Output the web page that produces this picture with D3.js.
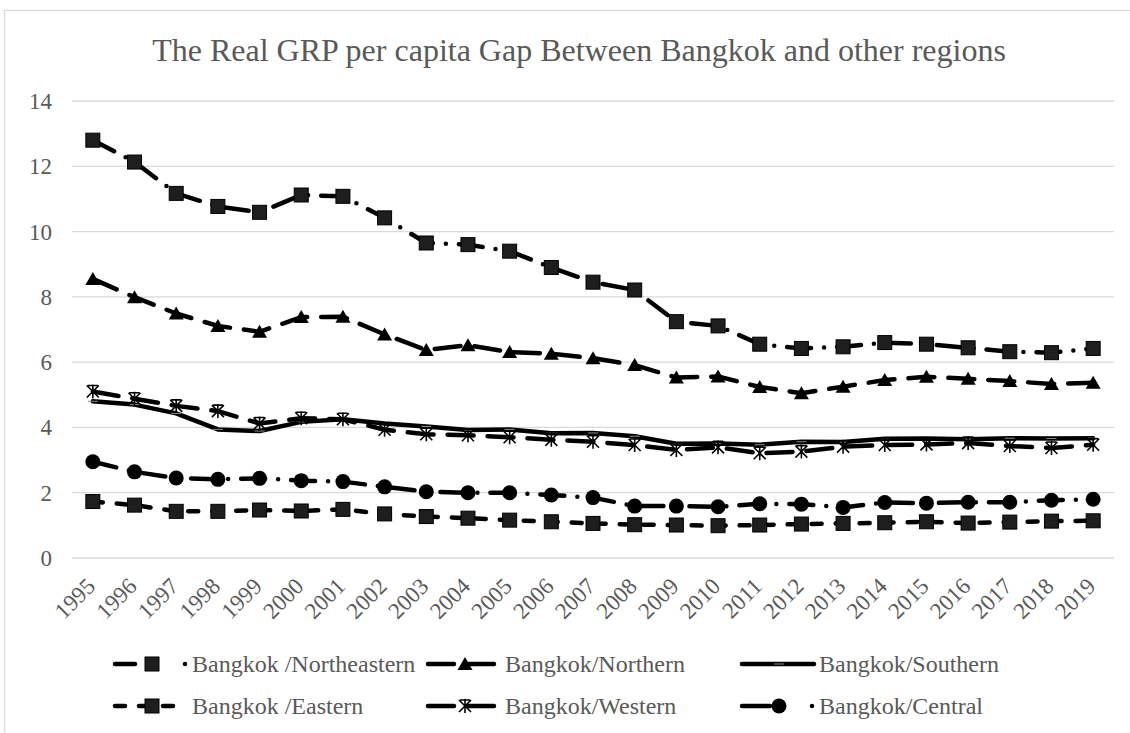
<!DOCTYPE html>
<head>
    <title> GRP per capita gap </title>
</head>
<style>
    body { margin: 0; background: #fff; }
    text { font-family: "Liberation Serif", "Times New Roman", serif; fill: #595959; }
    .grid line { stroke: #d9d9d9; stroke-width: 1.3px; }
    .series { fill: none; stroke: #000; stroke-width: 4.5px; stroke-linecap: round; stroke-linejoin: round; }
</style>
<body>
<script src="https://cdnjs.cloudflare.com/ajax/libs/d3/7.8.5/d3.min.js"></script>
<script>
// chart data
var years = ["1995","1996","1997","1998","1999","2000","2001","2002","2003","2004","2005","2006","2007",
             "2008","2009","2010","2011","2012","2013","2014","2015","2016","2017","2018","2019"];
var yTicks = [0, 2, 4, 6, 8, 10, 12, 14];

var northeastern = [12.8,12.13,11.17,10.77,10.59,11.12,11.08,10.42,9.65,9.6,9.4,8.9,8.45,8.21,7.24,7.11,6.55,6.42,6.47,6.6,6.55,6.44,6.32,6.29,6.42];
var northern     = [8.55,7.99,7.49,7.11,6.93,7.38,7.39,6.85,6.37,6.52,6.31,6.26,6.12,5.91,5.53,5.56,5.24,5.05,5.25,5.45,5.55,5.49,5.42,5.33,5.37];
var southern     = [4.8,4.7,4.43,3.94,3.89,4.17,4.25,4.12,4.03,3.92,3.94,3.82,3.83,3.73,3.5,3.51,3.47,3.56,3.55,3.65,3.66,3.64,3.67,3.66,3.67];
var eastern      = [1.73,1.62,1.43,1.43,1.47,1.44,1.49,1.35,1.27,1.22,1.16,1.11,1.06,1.02,1.01,0.99,1.01,1.04,1.06,1.08,1.11,1.07,1.1,1.13,1.14];
var western      = [5.1,4.88,4.66,4.5,4.12,4.28,4.25,3.93,3.79,3.76,3.7,3.62,3.56,3.46,3.31,3.39,3.21,3.26,3.41,3.46,3.48,3.52,3.43,3.37,3.47];
var central      = [2.95,2.64,2.45,2.41,2.44,2.37,2.34,2.18,2.03,2.0,2.0,1.93,1.85,1.59,1.59,1.57,1.66,1.65,1.55,1.7,1.68,1.71,1.71,1.77,1.8];

var seriesNames = ["Bangkok /Northeastern", "Bangkok/Northern", "Bangkok/Southern",
                   "Bangkok /Eastern", "Bangkok/Western", "Bangkok/Central"];
var seriesValues = [northeastern, northern, southern, eastern, western, central];
var dashes = ["24,13,0,13", "26,14", null, "10,14", "26,14", "24,13,0,13"];
// legend samples are short, so the dash-dot ones get their own pattern
var legendDashes = ["20,50,0,100", "26,14", null, "10,14", "26,14", "28,42,0,100"];
var markers = ["square", "triangle", "dash", "square", "star", "circle"];

var width = 1130,
    height = 733;

var svg = d3.select("body")
            .append("svg")
            .attr("width", width)
            .attr("height", height);

// outer chart border
svg.append("rect")
    .attr("x", 4.5).attr("y", 10.5)
    .attr("width", 1140).attr("height", 740)
    .attr("fill", "none")
    .attr("stroke", "#d9d9d9")
    .attr("stroke-width", 1.3);

svg.append("text")
    .attr("x", 579)
    .attr("y", 61)
    .attr("text-anchor", "middle")
    .style("font-size", "32px")
    .text("The Real GRP per capita Gap Between Bangkok and other regions");

var x = d3.scalePoint()
            .domain(years)
            .range([72, 1114])
            .padding(0.5);

var y = d3.scaleLinear()
            .domain([0, 14])
            .range([558, 101]);

// gridlines
svg.append("g")
    .attr("class", "grid")
    .selectAll("line")
    .data(yTicks)
    .enter()
    .append("line")
    .attr("x1", 72).attr("x2", 1114)
    .attr("y1", function(d){ return y(d); })
    .attr("y2", function(d){ return y(d); });

svg.append("g")
    .selectAll("text")
    .data(yTicks)
    .enter()
    .append("text")
    .attr("x", 52)
    .attr("y", function(d){ return y(d); })
    .attr("dy", "0.35em")
    .attr("text-anchor", "end")
    .style("font-size", "23px")
    .text(function(d){ return d; });

svg.append("g")
    .selectAll("text")
    .data(years)
    .enter()
    .append("text")
    .attr("text-anchor", "end")
    .attr("dy", "0.35em")
    .attr("transform", function(d){ return "translate(" + (x(d) - 2) + ",582) rotate(-45)"; })
    .style("font-size", "23px")
    .text(function(d){ return d; });

function drawMarker(g, type, cx, cy) {
    if (type == "square") {
        g.append("rect")
            .attr("x", cx - 7).attr("y", cy - 7)
            .attr("width", 14).attr("height", 14)
            .attr("fill", "#1e1e1e").attr("stroke", "#000").attr("stroke-width", 1);
    } else if (type == "triangle") {
        g.append("path")
            .attr("d", "M" + cx + "," + (cy - 7) + "L" + (cx + 7.5) + "," + (cy + 6) + "L" + (cx - 7.5) + "," + (cy + 6) + "Z")
            .attr("fill", "#000");
    } else if (type == "circle") {
        g.append("circle")
            .attr("cx", cx).attr("cy", cy).attr("r", 7.5)
            .attr("fill", "#000");
    } else if (type == "star") {
        g.append("path")
            .attr("d", "M" + (cx - 6) + "," + (cy - 6) + "L" + (cx + 6) + "," + (cy + 6) +
                       "M" + (cx + 6) + "," + (cy - 6) + "L" + (cx - 6) + "," + (cy + 6) +
                       "M" + cx + "," + (cy - 7) + "L" + cx + "," + (cy + 7) +
                       "M" + (cx - 5) + "," + (cy - 6) + "L" + (cx + 5) + "," + (cy - 6))
            .attr("stroke", "#000").attr("stroke-width", 1.6).attr("fill", "none");
    } else if (type == "dash") {
        g.append("line")
            .attr("x1", cx - 5).attr("x2", cx + 5)
            .attr("y1", cy).attr("y2", cy)
            .attr("stroke", "#8c8c8c").attr("stroke-width", 1);
    }
}

var line = d3.line()
    .x(function(d, i){ return x(years[i]); })
    .y(function(d){ return y(d); });

seriesValues.forEach(function(vals, k){
    var g = svg.append("g");
    g.append("path")
        .attr("class", "series")
        .attr("d", line(vals))
        .attr("stroke-dasharray", dashes[k]);
    vals.forEach(function(v, i){
        drawMarker(g, markers[k], x(years[i]), y(v));
    });
});

// legend, 3 columns x 2 rows
var legendX = [115, 428, 742];
var legendY = [664, 706];

seriesNames.forEach(function(name, k){
    var lx = legendX[k % 3], ly = legendY[Math.floor(k / 3)];
    var g = svg.append("g");
    g.append("path")
        .attr("class", "series")
        .attr("d", "M" + lx + "," + ly + "H" + (lx + 72))
        .attr("stroke-dasharray", legendDashes[k]);
    drawMarker(g, markers[k], lx + 37, ly);
    g.append("text")
        .attr("x", lx + 77)
        .attr("y", ly)
        .attr("dy", "0.35em")
        .style("font-size", "24px")
        .text(name);
});
</script>
</body>
